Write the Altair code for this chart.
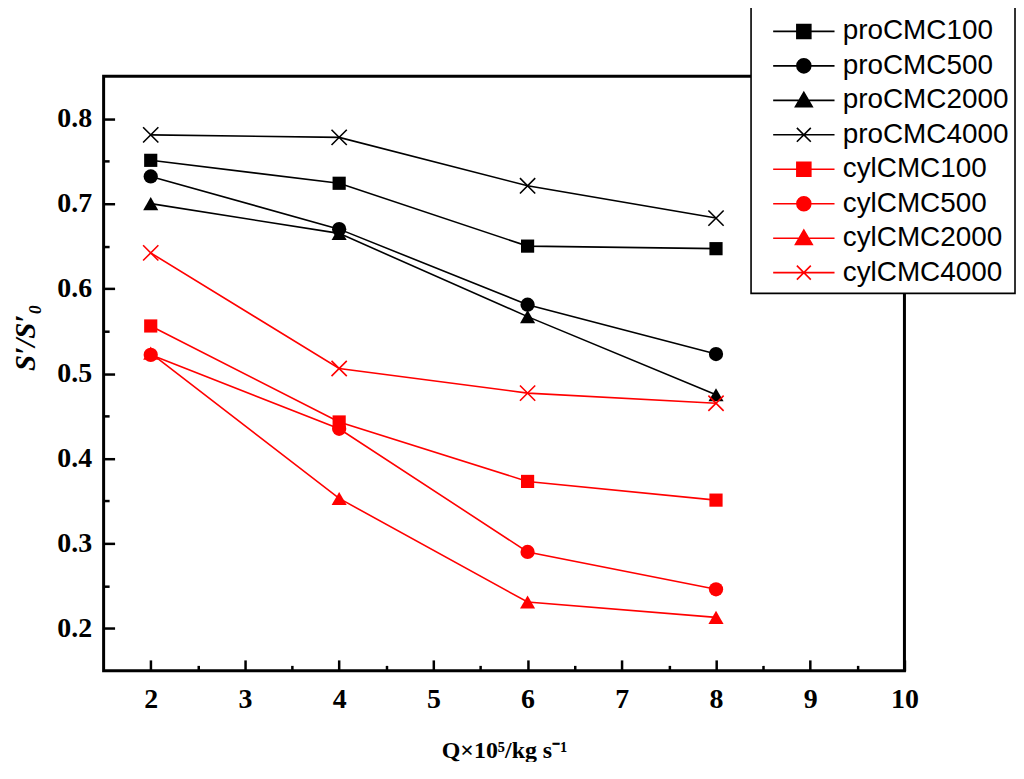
import altair as alt
import pandas as pd

# flow rate Q x 10^5 (kg/s)
Q = [2, 4, 6, 8]

SERIES = ["proCMC100", "proCMC500", "proCMC2000", "proCMC4000",
          "cylCMC100", "cylCMC500", "cylCMC2000", "cylCMC4000"]
pro_cmc100 = [0.751, 0.724, 0.650, 0.647]
pro_cmc500 = [0.732, 0.670, 0.581, 0.523]
pro_cmc2000 = [0.700, 0.665, 0.567, 0.475]
pro_cmc4000 = [0.781, 0.778, 0.721, 0.683]
cyl_cmc100 = [0.556, 0.443, 0.373, 0.351]
cyl_cmc500 = [0.522, 0.435, 0.290, 0.246]
cyl_cmc2000 = [0.524, 0.353, 0.231, 0.213]
cyl_cmc4000 = [0.642, 0.506, 0.477, 0.465]
VALUES = [pro_cmc100, pro_cmc500, pro_cmc2000, pro_cmc4000,
          cyl_cmc100, cyl_cmc500, cyl_cmc2000, cyl_cmc4000]
GROUPS = ["pro"] * 4 + ["cyl"] * 4
MARKERS = ["square", "circle", "triangle", "cross"] * 2
GROUP_COLORS = {"pro": "#000000", "cyl": "#FF0000"}

X_TICKS = [2, 2.5, 3, 3.5, 4, 4.5, 5, 5.5, 6, 6.5, 7, 7.5, 8, 8.5, 9, 9.5, 10]
Y_TICKS = [0.2, 0.25, 0.3, 0.35, 0.4, 0.45, 0.5, 0.55, 0.6, 0.65, 0.7, 0.75, 0.8]

CROSS = "M-1,-1L1,1M-1,1L1,-1"
PLOT_SHAPES = {"square": ("square", 175), "circle": ("circle", 205),
               "triangle": ("triangle-up", 230), "cross": (CROSS, 235)}
LINE = "M-4.4,0H4.4"
LEGEND_SHAPES = {
    "square": LINE + "M-1,-1H1V1H-1Z",
    "circle": LINE + "M1,0A1,1,0,1,1,-1,0A1,1,0,1,1,1,0Z",
    "triangle": LINE + "M0,-1.15L1.2,0.9H-1.2Z",
    "cross": LINE + CROSS,
}

rows = []
for name, vals, group, marker in zip(SERIES, VALUES, GROUPS, MARKERS):
    for q, v in zip(Q, vals):
        rows.append({"Q": q, "ratio": v, "series": name, "group": group, "marker": marker})
df = pd.DataFrame(rows)

W, H = 804, 597
major_y = "abs(round(datum.value * 10) - datum.value * 10) < 0.001"

x_enc = alt.X(
    "Q:Q",
    scale=alt.Scale(domain=[1.5, 10], nice=False, zero=False),
    axis=alt.Axis(
        values=X_TICKS,
        title="Q×10⁵/kg s⁻¹",
        titleX=W / 2, titleY=80, titleBaseline="middle", titleAlign="center",
        titleFontSize=24,
        labelExpr="datum.value % 1 === 0 ? format(datum.value, 'd') : ''",
        labelPadding=26,
        tickSize={"condition": {"test": "datum.value % 1 === 0", "value": -11}, "value": -5.5},
    ),
)
y_enc = alt.Y(
    "ratio:Q",
    scale=alt.Scale(domain=[0.15, 0.85], nice=False, zero=False),
    axis=alt.Axis(
        values=Y_TICKS,
        title="S′/S′₀",
        titleX=-78, titleY=262, titleBaseline="middle", titleAlign="center",
        titleFontSize=29, titleFontStyle="italic",
        labelExpr=major_y + " ? format(datum.value, '.1f') : ''",
        labelPadding=23,
        tickSize={"condition": {"test": major_y, "value": -11}, "value": -5.5},
    ),
)

base = alt.Chart(df).encode(x=x_enc, y=y_enc)

layers = []
for group, color in GROUP_COLORS.items():
    sub = base.transform_filter(alt.datum.group == group)
    layers.append(sub.mark_line(strokeWidth=1.6, color=color).encode(detail="series:N", order="Q:Q"))
    for marker, (shape, size) in PLOT_SHAPES.items():
        pts = sub.transform_filter(alt.datum.marker == marker)
        if marker == "cross":
            layers.append(pts.mark_point(shape=shape, size=size, filled=False, color=color,
                                         strokeWidth=1.6, opacity=1))
        else:
            layers.append(pts.mark_point(shape=shape, size=size, filled=True, color=color, opacity=1))

legend = alt.Legend(
    title=" ",
    titleFontSize=4,
    titlePadding=2,
    orient="none",
    legendX=650,
    legendY=-71,
    direction="vertical",
    columns=1,
    padding=6,
    fillColor="white",
    strokeColor="black",
    labelFont="Liberation Sans",
    labelFontSize=28,
    labelColor="black",
    labelLimit=300,
    symbolSize=196,
    symbolStrokeWidth=1.6,
    symbolOpacity=1,
    symbolOffset=33,
    labelOffset=25,
    rowPadding=6.6,
)
series_colors = [GROUP_COLORS[g] for g in GROUPS]
color_scale = alt.Scale(domain=SERIES, range=series_colors)
legend_shape_scale = alt.Scale(domain=SERIES, range=[LEGEND_SHAPES[m] for m in MARKERS])
# invisible layer that only carries the legend (line + marker symbols)
legend_layer = base.mark_point(filled=True, opacity=0).encode(
    shape=alt.Shape("series:N", scale=legend_shape_scale, legend=legend),
    fill=alt.Fill("series:N", scale=color_scale, legend=legend),
    stroke=alt.Stroke("series:N", scale=color_scale, legend=legend),
)
layers.append(legend_layer)

chart = (
    alt.layer(*layers)
    .properties(
        width=W,
        height=H,
        autosize=alt.AutoSizeParams(type="none"),
        padding={"left": 96, "top": 67, "right": 112, "bottom": 90},
        background="white",
    )
    .configure_view(stroke="black", strokeWidth=3)
    .configure_legend(strokeWidth=1.6)
    .configure_axis(
        domain=False,
        grid=False,
        tickColor="black",
        tickWidth=2.5,
        labelFont="Liberation Serif",
        labelFontWeight="bold",
        labelFontSize=28,
        labelColor="black",
        labelFlush=False,
        labelOverlap=False,
        labelBound=False,
        titleFont="Liberation Serif",
        titleFontWeight="bold",
        titleColor="black",
    )
)

chart.save("out.html", embed_options={"renderer": "svg", "actions": False})
